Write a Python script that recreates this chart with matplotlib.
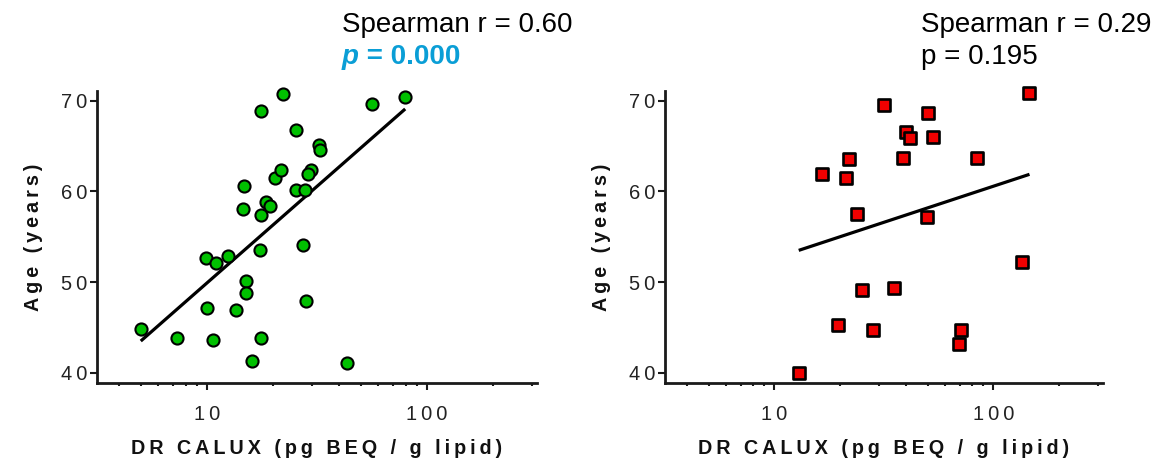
import numpy as np
import matplotlib
matplotlib.use("Agg")
import matplotlib.pyplot as plt
from matplotlib.ticker import FixedLocator, FuncFormatter, NullFormatter

plt.rcParams["font.family"] = ["Liberation Sans", "DejaVu Sans"]

# DR CALUX (pg BEQ / g lipid) vs age, group A
calux_a = [5.0, 7.3, 10.7, 10.0, 9.9, 11.0, 12.4, 13.5, 15.1, 15.1, 16.0, 17.6,
           17.4, 14.5, 14.7, 17.6, 18.5, 19.4, 17.6, 22.2, 20.4, 21.6, 25.4, 25.4,
           27.9, 27.4, 28.2, 29.6, 28.9, 32.2, 32.6, 43.4, 56.0, 79.6]
age_a = [44.8, 43.8, 43.6, 47.1, 52.7, 52.1, 52.9, 46.9, 50.1, 48.75, 41.3, 43.8,
         53.5, 58.1, 60.55, 57.4, 58.8, 58.4, 68.9, 70.7, 61.5, 62.35, 66.8, 60.1,
         60.1, 54.1, 47.9, 62.4, 61.9, 65.1, 64.6, 41.1, 69.6, 70.4]

# group B
calux_b = [12.9, 16.4, 21.1, 21.9, 19.4, 23.8, 25.0, 28.1, 31.5, 35.3, 38.7,
           39.8, 41.4, 49.6, 50.3, 52.8, 71.1, 69.6, 83.8, 135.0, 146.0]
age_b = [40.0, 61.9, 61.5, 63.6, 45.3, 57.5, 49.1, 44.7, 69.5, 49.3, 63.7,
         66.5, 65.9, 57.2, 68.6, 66.0, 44.7, 43.2, 63.7, 52.2, 70.8]

# linear fit of age on log10(DR CALUX): (slope per decade, intercept)
fit_a = (21.3, 28.6)
fit_b = (7.96, 44.65)

stats_a = ("Spearman r = 0.60", "p", " = 0.000")
stats_b = ("Spearman r = 0.29", "p = 0.195")

x_label = "DR CALUX (pg BEQ / g lipid)"
y_label = "Age (years)"
y_ticks = [40, 50, 60, 70]
x_major = [10, 100]
x_minor = [4, 5, 6, 7, 8, 9, 20, 30, 40, 50, 60, 70, 80, 90, 200, 300]

W, H = 1163, 468
fig = plt.figure(figsize=(W / 100, H / 100), dpi=100)

def box(x0, y0, x1, y1):
    return [x0 / W, 1 - y1 / H, (x1 - x0) / W, (y1 - y0) / H]

ax_a = fig.add_axes(box(97, 91, 537, 383))
ax_b = fig.add_axes(box(665, 91, 1103, 383))

ink = "#1a1a1a"
tick_fmt = FuncFormatter(lambda v, p: "\u2009".join(f"{v:g}"))

def spaced(s):
    return "\u2009".join(s)

def style(ax):
    ax.set_xscale("log")
    ax.set_xlim(10 ** 0.5, 10 ** 2.5)
    ax.set_ylim(38.86, 71.07)
    for side in ("top", "right"):
        ax.spines[side].set_visible(False)
    for side in ("left", "bottom"):
        ax.spines[side].set_linewidth(2.0)
        ax.spines[side].set_color(ink)
    ax.xaxis.set_major_locator(FixedLocator(x_major))
    ax.xaxis.set_minor_locator(FixedLocator(x_minor))
    ax.xaxis.set_major_formatter(tick_fmt)
    ax.xaxis.set_minor_formatter(NullFormatter())
    ax.yaxis.set_major_locator(FixedLocator(y_ticks))
    ax.yaxis.set_major_formatter(tick_fmt)
    ax.tick_params(axis="both", which="major", length=5, width=1.5,
                   color=ink, labelsize=14.5, labelcolor="#222222")
    ax.tick_params(axis="x", which="major", pad=11)
    ax.tick_params(axis="y", which="major", pad=2)
    ax.tick_params(axis="x", which="minor", length=2.5, width=1.5, color=ink)
    ax.set_xlabel(spaced(x_label), fontsize=14.2, fontweight="bold",
                  labelpad=11, color="#111111")
    ax.set_ylabel(spaced(y_label), fontsize=14.2, fontweight="bold",
                  labelpad=13, color="#111111")

def fit_line(ax, xs, coef):
    lx = np.log10([min(xs), max(xs)])
    ax.plot(10 ** lx, coef[0] * lx + coef[1], color="black", lw=2.3,
            solid_capstyle="butt", zorder=2)

style(ax_a)
style(ax_b)

fit_line(ax_a, calux_a, fit_a)
ax_a.scatter(calux_a, age_a, s=76, marker="o", facecolor="#00c000",
             edgecolor="black", linewidth=1.5, zorder=3, clip_on=False)

fit_line(ax_b, calux_b, fit_b)
ax_b.scatter(calux_b, age_b, s=64, marker="s", facecolor="#f00000",
             edgecolor="black", linewidth=1.9, zorder=3, clip_on=False)

# statistics printed above each panel
fs = 20
blue = "#0a9ed6"
fig.text(342 / W, 1 - 32 / H, stats_a[0], fontsize=fs, color="black", va="baseline")
p_txt = fig.text(342 / W, 1 - 64 / H, stats_a[1], fontsize=fs, color=blue,
                 va="baseline", fontweight="bold", fontstyle="italic")
fig.canvas.draw()
p_box = p_txt.get_window_extent(fig.canvas.get_renderer())
fig.text(p_box.x1 / W, 1 - 64 / H, stats_a[2], fontsize=fs, color=blue,
         va="baseline", fontweight="bold")
fig.text(921 / W, 1 - 32 / H, stats_b[0], fontsize=fs, color="black", va="baseline")
fig.text(921 / W, 1 - 64 / H, stats_b[1], fontsize=fs, color="black", va="baseline")

fig.savefig("out.png", dpi=100)
